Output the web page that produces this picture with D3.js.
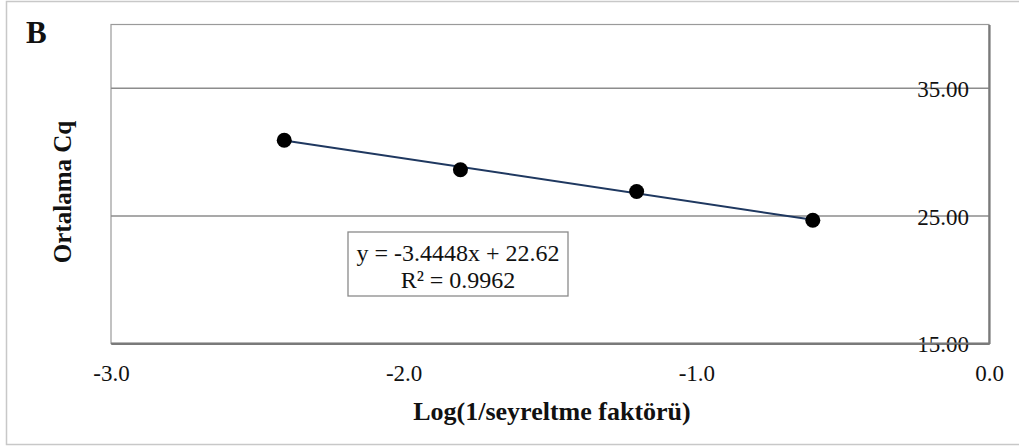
<!DOCTYPE html>
<html>
<head>
<meta charset="utf-8">
<script src="https://cdn.jsdelivr.net/npm/d3@7"></script>
<style>
  html, body { margin: 0; padding: 0; background: #fff; }
  svg { display: block; font-family: "Liberation Serif", "Times New Roman", serif; }
</style>
</head>
<body>
<svg id="chart" width="1019" height="446"></svg>
<script>
// Standard curve: mean Cq against log10 of dilution
const logDilution = [-2.408, -1.806, -1.204, -0.602];
const meanCq = [30.93, 28.62, 26.91, 24.66];
const xTicks = [-3.0, -2.0, -1.0, 0.0];
const yTicks = [15, 25, 35];
const slope = -3.4448;
const intercept = 22.62;
const rSquared = 0.9962;

const svg = d3.select("#chart");
const W = 1019, H = 446;
const plot = { left: 111, right: 989, top: 24.5, bottom: 343.5 };
const serif = "'Liberation Serif', 'Times New Roman', serif";

const x = d3.scaleLinear().domain([-3, 0]).range([plot.left, plot.right]);
const y = d3.scaleLinear().domain([15, 40]).range([plot.bottom, plot.top]);

// plain hyphen for negative numbers
const fmt = spec => d => d3.format(spec)(d).replace("\u2212", "-");

// outer frame
svg.append("rect")
  .attr("x", 6.5).attr("y", 1.5)
  .attr("width", W + 10).attr("height", 443)
  .attr("fill", "#fff").attr("stroke", "#c8c8c8").attr("stroke-width", 1.5);

// plot area frame
svg.append("rect")
  .attr("x", plot.left).attr("y", plot.top)
  .attr("width", plot.right - plot.left).attr("height", plot.bottom - plot.top)
  .attr("fill", "none").attr("stroke", "#9a9a9a").attr("stroke-width", 1.2);

// horizontal gridlines
svg.append("g").selectAll("line")
  .data(yTicks.filter(d => d > 15))
  .join("line")
  .attr("x1", plot.left).attr("x2", plot.right)
  .attr("y1", d => y(d)).attr("y2", d => y(d))
  .attr("stroke", "#8c8c8c").attr("stroke-width", 1.5);

// x axis at the bottom
const xAxis = d3.axisBottom(x).tickValues(xTicks).tickSize(0).tickPadding(0)
  .tickFormat(fmt(".1f"));
const gx = svg.append("g").attr("transform", `translate(0,${plot.bottom})`).call(xAxis);
gx.select(".domain").attr("stroke", "#7a7a7a").attr("stroke-width", 2);
gx.selectAll("text")
  .attr("dy", null).attr("y", 37)
  .attr("fill", "#111").style("font-size", "23px")
  .style("font-family", serif);

// y axis sitting on the right edge (x = 0)
const yAxis = d3.axisLeft(y).tickValues(yTicks).tickSize(0).tickPadding(0)
  .tickFormat(fmt(".2f"));
const gy = svg.append("g").attr("transform", `translate(${plot.right},0)`).call(yAxis);
gy.select(".domain").attr("stroke", "#7a7a7a").attr("stroke-width", 2.2);
gy.selectAll("text")
  .attr("x", -20).attr("dy", "0.36em")
  .attr("fill", "#111").style("font-size", "23px")
  .style("font-family", serif);
// redraw the bottom axis line over the 15.00 label
svg.append("line")
  .attr("x1", plot.left).attr("x2", plot.right + 1)
  .attr("y1", plot.bottom).attr("y2", plot.bottom)
  .attr("stroke", "#7a7a7a").attr("stroke-width", 2);

// linear trend line over the data range
const xs = d3.extent(logDilution);
svg.append("line")
  .attr("x1", x(xs[0])).attr("y1", y(slope * xs[0] + intercept))
  .attr("x2", x(xs[1])).attr("y2", y(slope * xs[1] + intercept))
  .attr("stroke", "#1f3860").attr("stroke-width", 2);

// data points
svg.append("g").selectAll("circle")
  .data(logDilution.map((d, i) => [d, meanCq[i]]))
  .join("circle")
  .attr("cx", d => x(d[0])).attr("cy", d => y(d[1]))
  .attr("r", 7.5).attr("fill", "#000");

// equation box
const box = svg.append("g");
box.append("rect")
  .attr("x", 348).attr("y", 232).attr("width", 220).attr("height", 64)
  .attr("fill", "#fff").attr("stroke", "#8a8a8a").attr("stroke-width", 1.3);
box.append("text")
  .attr("x", 458).attr("y", 261).attr("text-anchor", "middle")
  .style("font-size", "24px").attr("fill", "#111")
  .text(`y = ${slope}x + ${intercept}`);
box.append("text")
  .attr("x", 458).attr("y", 288).attr("text-anchor", "middle")
  .style("font-size", "24px").attr("fill", "#111")
  .text(`R² = ${rSquared}`);

// axis titles
svg.append("text")
  .attr("x", 552).attr("y", 420).attr("text-anchor", "middle")
  .style("font-size", "26px").style("font-weight", "bold").attr("fill", "#111")
  .text("Log(1/seyreltme faktörü)");
svg.append("text")
  .attr("transform", "translate(71,192) rotate(-90)")
  .attr("text-anchor", "middle")
  .style("font-size", "25px").style("font-weight", "bold").attr("fill", "#111")
  .text("Ortalama Cq");

// panel letter
svg.append("text")
  .attr("x", 26).attr("y", 43)
  .style("font-size", "31px").style("font-weight", "bold").attr("fill", "#111")
  .text("B");
</script>
</body>
</html>
